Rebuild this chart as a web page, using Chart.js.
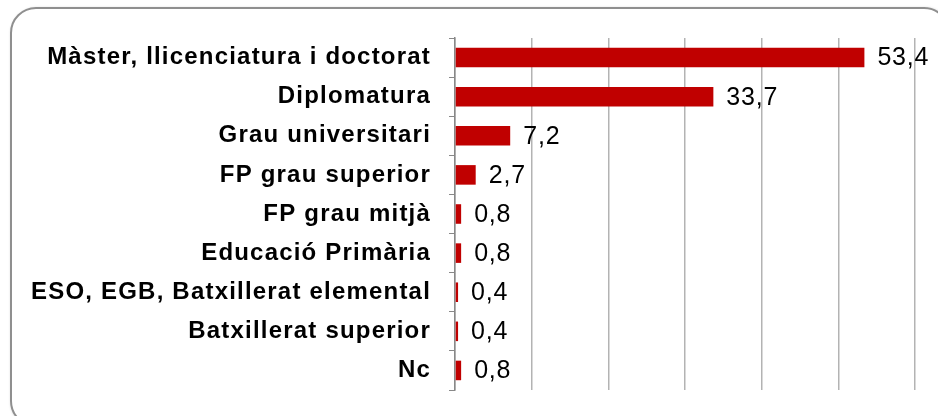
<!DOCTYPE html>
<html>
<head>
<meta charset="utf-8">
<script src="https://cdn.jsdelivr.net/npm/chart.js@4"></script>
<style>
  html, body { margin: 0; padding: 0; background: #fff; }
  #wrap { position: relative; width: 938px; height: 416px; overflow: hidden; }
  #frame {
    position: absolute; left: 10px; top: 7px; width: 940px; height: 420px;
    border: 2px solid #8f8f8f; border-radius: 26px; box-sizing: border-box;
    box-shadow: 1px 1px 3px rgba(0,0,0,0.25);
  }
  canvas { position: absolute; left: 0; top: 0; }
</style>
</head>
<body>
<div id="wrap">
  <div id="frame"></div>
  <canvas id="chart" width="938" height="416"></canvas>
</div>
<script>
const categories = [
  "Màster, llicenciatura i doctorat",
  "Diplomatura",
  "Grau universitari",
  "FP grau superior",
  "FP grau mitjà",
  "Educació Primària",
  "ESO, EGB, Batxillerat elemental",
  "Batxillerat superior",
  "Nc",
];
const values = [53.4, 33.7, 7.2, 2.7, 0.8, 0.8, 0.4, 0.4, 0.8];
const valueLabels = ["53,4", "33,7", "7,2", "2,7", "0,8", "0,8", "0,4", "0,4", "0,8"];

// una mica d'espaiat entre lletres, com a l'original
const spacingPlugin = {
  id: "spacing",
  beforeDraw(chart) {
    chart.ctx.letterSpacing = "1.2px";
  },
};

// etiquetes de valor a la dreta de cada barra
const valueLabelPlugin = {
  id: "valueLabels",
  afterDatasetsDraw(chart) {
    const ctx = chart.ctx;
    const meta = chart.getDatasetMeta(0);
    ctx.save();
    ctx.letterSpacing = "0.8px";
    ctx.font = "25px 'Liberation Sans', Arial, sans-serif";
    ctx.fillStyle = "#000";
    ctx.textBaseline = "middle";
    meta.data.forEach((bar, i) => {
      ctx.fillText(valueLabels[i], bar.x + 13, bar.y + 1);
    });
    ctx.restore();
  },
};

new Chart(document.getElementById("chart"), {
  type: "bar",
  data: {
    labels: categories,
    datasets: [
      {
        data: values,
        backgroundColor: "#c00000",
        barPercentage: 0.5,
        categoryPercentage: 1,
      },
    ],
  },
  options: {
    indexAxis: "y",
    responsive: false,
    animation: false,
    layout: { padding: { left: 20, right: 23, top: 38, bottom: 26 } },
    plugins: {
      legend: { display: false },
      tooltip: { enabled: false },
    },
    scales: {
      x: {
        min: 0,
        max: 60,
        afterFit: (scale) => { scale.height = 0; },
        ticks: { display: false, stepSize: 10 },
        grid: { color: "#b3b3b3", lineWidth: 1.5, drawTicks: false },
        border: { display: false },
      },
      y: {
        afterFit: (scale) => {
          scale.width = 435;
          scale.paddingTop = 0;
          scale.paddingBottom = 0;
        },
        ticks: {
          color: "#000",
          font: { family: "'Liberation Sans', Arial, sans-serif", size: 24, weight: "bold" },
          padding: 18,
        },
        grid: { drawOnChartArea: false, tickLength: 6, color: "#888" },
        border: { color: "#888", width: 1.5 },
      },
    },
  },
  plugins: [spacingPlugin, valueLabelPlugin],
});
</script>
</body>
</html>
